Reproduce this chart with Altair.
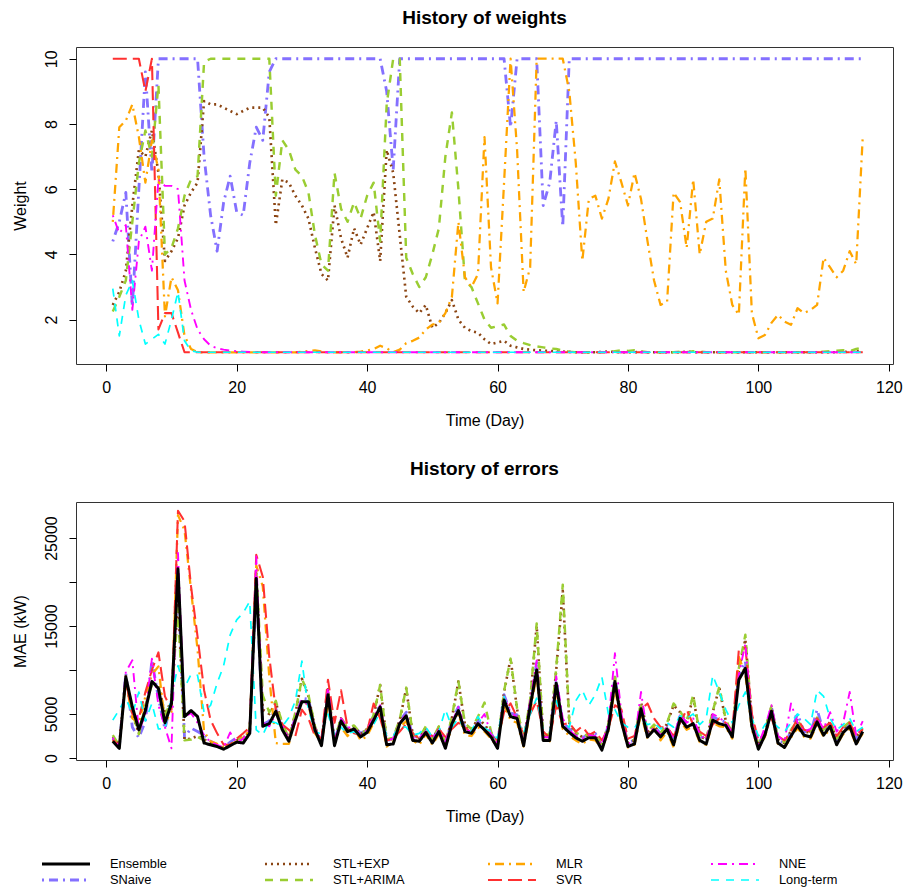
import altair as alt
import pandas as pd

days = list(range(1, 117))

# ---------------- weights (top panel) ----------------
w_snaive = [4.4, 5.0, 5.9, 2.4, 6.0, 9.6, 6.5, 10, 10, 10,
            10, 10, 10, 10, 7.0, 5.2, 4.1, 5.6, 6.4, 5.3,
            5.2, 6.8, 7.9, 7.5, 9.6, 10, 10, 10, 10, 10,
            10, 10, 10, 10, 10, 10, 10, 10, 10, 10,
            10, 10, 9.0, 6.6, 10, 10, 10, 10, 10, 10,
            10, 10, 10, 10, 10, 10, 10, 10, 10, 10,
            10, 7.9, 10, 10, 10, 10, 5.5, 6.2, 8.1, 4.85,
            10, 10, 10, 10, 10, 10, 10, 10, 10, 10,
            10, 10, 10, 10, 10, 10, 10, 10, 10, 10,
            10, 10, 10, 10, 10, 10, 10, 10, 10, 10,
            10, 10, 10, 10, 10, 10, 10, 10, 10, 10,
            10, 10, 10, 10, 10, 10]
w_stlexp = [2.45, 2.85, 3.5, 5.5, 7.2, 7.0, 7.8, 6.5, 3.8, 4.1,
            4.5, 5.5, 5.9, 6.2, 8.7, 8.6, 8.6, 8.5, 8.4, 8.3,
            8.4, 8.5, 8.5, 8.5, 8.2, 4.9, 6.3, 6.2, 5.8, 5.5,
            5.1, 4.2, 3.4, 3.2, 5.5, 4.5, 3.9, 4.8, 4.3, 4.8,
            5.3, 3.8, 7.2, 6.5, 4.6, 2.7, 2.4, 2.2, 2.45, 1.75,
            1.9, 2.2, 2.6, 2.0, 1.75, 1.65, 1.6, 1.4, 1.25, 1.3,
            1.35, 1.2, 1.15, 1.1, 1.08, 1.06, 1.05, 1.04, 1.03, 1.02,
            1.01, 1.0, 1.0, 1.0, 1.0, 1.01, 1.02, 1.01, 1.0, 1.0,
            1.0, 1.01, 1.0, 1.0, 1.0, 1.0, 1.0, 1.0, 1.02, 1.0,
            1.0, 1.0, 1.0, 1.0, 1.0, 1.0, 1.0, 1.0, 1.0, 1.0,
            1.0, 1.0, 1.0, 1.0, 1.0, 1.0, 1.0, 1.0, 1.0, 1.0,
            1.0, 1.0, 1.02, 1.0, 1.04, 1.02]
w_stlarima = [2.25, 2.7, 3.2, 5.0, 6.8, 7.8, 7.0, 9.2, 4.0, 4.2,
              4.8, 5.8, 6.3, 6.4, 9.9, 10, 10, 10, 10, 10,
              10, 10, 10, 10, 10, 5.8, 7.5, 7.2, 6.6, 6.4,
              5.9, 4.6, 3.7, 3.5, 6.5, 5.4, 5.0, 5.6, 5.1, 5.8,
              6.2, 4.4, 8.6, 10, 10, 3.9, 3.4, 3.0, 3.3, 4.0,
              4.8, 7.0, 8.35, 6.0, 3.2, 3.0, 2.5, 2.0, 1.75, 1.8,
              1.85, 1.5, 1.35, 1.28, 1.22, 1.18, 1.15, 1.12, 1.1, 1.05,
              1.02, 1.0, 1.0, 1.0, 1.0, 1.0, 1.0, 1.03, 1.06, 1.04,
              1.06, 1.03, 1.0, 1.0, 1.0, 1.0, 1.0, 1.02, 1.0, 1.03,
              1.02, 1.0, 1.0, 1.0, 1.0, 1.0, 1.0, 1.0, 1.0, 1.0,
              1.0, 1.0, 1.0, 1.0, 1.0, 1.0, 1.0, 1.0, 1.0, 1.02,
              1.03, 1.05, 1.06, 1.03, 1.1, 1.15]
w_mlr = [5.0, 7.9, 8.1, 8.6, 7.6, 6.2, 7.5, 6.6, 2.1, 3.3,
         2.9, 1.5, 1.1, 1.0, 1.0, 1.0, 1.0, 1.0, 1.0, 1.0,
         1.0, 1.0, 1.0, 1.0, 1.0, 1.0, 1.0, 1.0, 1.0, 1.02,
         1.04, 1.06, 1.03, 1.0, 1.0, 1.0, 1.0, 1.0, 1.02, 1.05,
         1.1, 1.2, 1.12, 1.0, 1.08, 1.28, 1.35, 1.45, 1.7, 1.85,
         1.9, 2.2, 2.7, 5.0, 3.3, 3.0, 3.4, 7.6, 3.6, 2.5,
         6.2, 10, 7.2, 2.85, 3.6, 10, 10, 10, 10, 10,
         9.0, 6.8, 3.8, 5.7, 5.8, 5.1, 5.7, 6.85, 6.2, 5.5,
         6.5, 5.7, 4.4, 3.2, 2.45, 2.55, 5.9, 5.6, 4.2, 6.3,
         4.0, 5.0, 5.1, 6.3, 3.5, 2.45, 2.15, 6.65, 2.2, 1.43,
         1.53, 1.9, 2.15, 1.94, 1.84, 2.35, 2.2, 2.3, 2.45, 3.9,
         3.6, 3.3, 3.5, 4.1, 3.7, 7.6]
w_svr = [10, 10, 10, 10, 10, 9.0, 10, 1.7, 2.2, 2.2,
         1.6, 1.0, 1.0, 1.0, 1.0, 1.0, 1.0, 1.0, 1.0, 1.0,
         1.0, 1.0, 1.0, 1.0, 1.0, 1.0, 1.0, 1.0, 1.0, 1.0,
         1.0, 1.0, 1.0, 1.0, 1.0, 1.0, 1.0, 1.0, 1.0, 1.0,
         1.0, 1.0, 1.0, 1.0, 1.0, 1.0, 1.0, 1.0, 1.0, 1.0,
         1.0, 1.0, 1.0, 1.0, 1.0, 1.0, 1.0, 1.0, 1.0, 1.0,
         1.0, 1.0, 1.0, 1.0, 1.0, 1.0, 1.0, 1.0, 1.0, 1.0,
         1.0, 1.0, 1.0, 1.0, 1.0, 1.0, 1.0, 1.0, 1.0, 1.0,
         1.0, 1.0, 1.0, 1.0, 1.0, 1.0, 1.0, 1.0, 1.0, 1.0,
         1.0, 1.0, 1.0, 1.0, 1.0, 1.0, 1.0, 1.0, 1.0, 1.0,
         1.0, 1.0, 1.0, 1.0, 1.0, 1.0, 1.0, 1.0, 1.0, 1.0,
         1.0, 1.0, 1.0, 1.0, 1.0, 1.0]
w_nne = [5.2, 4.65, 4.9, 2.3, 4.4, 4.85, 3.5, 6.3, 6.1, 6.1,
         6.0, 3.2, 2.3, 1.7, 1.4, 1.2, 1.12, 1.08, 1.05, 1.03,
         1.02, 1.01, 1.0, 1.0, 1.0, 1.0, 1.0, 1.0, 1.0, 1.0,
         1.0, 1.0, 1.0, 1.0, 1.0, 1.0, 1.0, 1.0, 1.0, 1.0,
         1.0, 1.0, 1.0, 1.0, 1.0, 1.0, 1.0, 1.0, 1.0, 1.0,
         1.0, 1.0, 1.0, 1.0, 1.0, 1.0, 1.0, 1.0, 1.0, 1.0,
         1.0, 1.0, 1.0, 1.0, 1.0, 1.0, 1.0, 1.0, 1.0, 1.0,
         1.0, 1.0, 1.0, 1.0, 1.0, 1.0, 1.0, 1.0, 1.0, 1.0,
         1.0, 1.0, 1.0, 1.0, 1.0, 1.0, 1.0, 1.0, 1.0, 1.0,
         1.0, 1.0, 1.0, 1.0, 1.0, 1.0, 1.0, 1.0, 1.0, 1.0,
         1.0, 1.0, 1.0, 1.0, 1.0, 1.0, 1.0, 1.0, 1.0, 1.0,
         1.0, 1.0, 1.0, 1.0, 1.0, 1.0]
w_longterm = [2.95, 1.5, 2.75, 3.2, 2.0, 1.25, 1.4, 1.55, 1.25, 2.0,
              2.85, 1.35, 1.05, 1.0, 1.0, 1.0, 1.0, 1.0, 1.0, 1.0,
              1.0, 1.0, 1.0, 1.0, 1.0, 1.0, 1.0, 1.0, 1.0, 1.0,
              1.0, 1.0, 1.0, 1.0, 1.0, 1.0, 1.0, 1.0, 1.0, 1.0,
              1.0, 1.0, 1.0, 1.0, 1.0, 1.0, 1.0, 1.0, 1.0, 1.0,
              1.0, 1.0, 1.0, 1.0, 1.0, 1.0, 1.0, 1.0, 1.0, 1.0,
              1.0, 1.0, 1.0, 1.0, 1.0, 1.0, 1.0, 1.0, 1.0, 1.0,
              1.0, 1.0, 1.0, 1.0, 1.0, 1.0, 1.0, 1.0, 1.0, 1.0,
              1.0, 1.0, 1.0, 1.0, 1.0, 1.0, 1.0, 1.0, 1.0, 1.0,
              1.0, 1.0, 1.0, 1.0, 1.0, 1.0, 1.0, 1.0, 1.0, 1.0,
              1.0, 1.0, 1.0, 1.0, 1.0, 1.0, 1.0, 1.0, 1.0, 1.0,
              1.0, 1.0, 1.0, 1.0, 1.0, 1.0]

# ---------------- errors (bottom panel) ----------------
e_ensemble = [1900, 1100, 9200, 5800, 3200, 5400, 8700, 7900, 4000, 6200,
              21500, 4700, 5400, 4700, 1700, 1500, 1300, 1000, 1400, 1800,
              1700, 2800, 20400, 3600, 3900, 5300, 3200, 1900, 4300, 6400,
              6400, 3200, 1400, 7200, 1400, 4200, 3000, 3300, 2400, 2900,
              4300, 5800, 1500, 1600, 3900, 4800, 2000, 1900, 2900, 1700,
              3000, 1100, 3900, 5400, 3000, 2800, 3900, 3200, 2400, 1100,
              6600, 4700, 4500, 1400, 5800, 10000, 2000, 2000, 8500, 3600,
              2900, 2300, 1900, 2300, 2300, 900, 3300, 8700, 4100, 1300,
              1600, 5600, 2400, 3200, 2400, 3300, 1500, 4500, 3500, 3900,
              2000, 1600, 4300, 3900, 3700, 2400, 8900, 10200, 3600, 1000,
              2600, 5300, 1700, 1200, 2500, 3700, 2600, 2400, 4100, 2600,
              3600, 1500, 2900, 3600, 1600, 3000]
e_snaive = [2200, 1300, 9600, 3500, 2300, 4200, 11100, 6800, 3300, 6500,
            20000, 2300, 3400, 3000, 2600, 1900, 1500, 1200, 1800, 2300,
            2400, 2900, 19800, 3800, 4200, 5600, 3300, 2300, 4600, 6800,
            6700, 3500, 1700, 7400, 1900, 4400, 3300, 3600, 2800, 3200,
            4700, 6000, 2000, 2100, 4200, 5200, 2500, 2300, 3300, 2100,
            3400, 1600, 4300, 5800, 3400, 3100, 4200, 3600, 2800, 1600,
            7200, 5100, 4900, 1900, 6300, 10800, 2600, 2500, 8800, 4000,
            3300, 2700, 2300, 2700, 2800, 1400, 3700, 9200, 4500, 1800,
            2000, 6100, 2800, 3600, 2800, 3700, 1900, 5000, 3900, 4300,
            2500, 2000, 4700, 4300, 4100, 2800, 9500, 11000, 4000, 1500,
            3000, 5800, 2200, 1600, 3000, 5000, 3000, 2800, 5500, 3000,
            4000, 2000, 3300, 4000, 2100, 3400]
e_stlexp = [2400, 1500, 9300, 5000, 2800, 5800, 8500, 8300, 5000, 6500,
            18000, 2100, 2200, 2500, 2100, 1700, 1500, 1100, 1500, 2000,
            2200, 3000, 21000, 5500, 5000, 6300, 3800, 2200, 5000, 9000,
            7000, 3500, 1700, 7800, 1900, 4500, 3300, 3600, 2700, 3300,
            4800, 8300, 2000, 2200, 4300, 7900, 2600, 2200, 3500, 2000,
            3500, 1500, 4500, 8700, 3800, 3200, 4500, 3800, 2800, 1400,
            7500, 11300, 5500, 2000, 6500, 15000, 2500, 2600, 10000, 19000,
            4000, 2800, 2400, 2600, 2600, 1300, 3800, 9000, 4600, 1700,
            2000, 6300, 2900, 3700, 2700, 3900, 6000, 5200, 4000, 7000,
            2600, 2000, 5200, 8000, 4200, 2800, 10000, 13500, 4300, 1400,
            3000, 5800, 2100, 1700, 3100, 4200, 3000, 2900, 4500, 3100,
            4100, 2100, 3400, 4000, 2400, 3300]
e_stlarima = [2600, 1400, 9000, 5200, 2700, 6000, 8300, 8200, 4800, 6600,
              17000, 2000, 2100, 2400, 2000, 1700, 1400, 1100, 1500, 2100,
              2300, 3200, 21400, 7100, 5200, 6500, 3900, 2300, 5200, 9000,
              7200, 3600, 1600, 7600, 2000, 4600, 3400, 3700, 2800, 3200,
              4900, 8300, 2100, 2300, 4400, 8000, 2700, 2300, 3600, 2100,
              3600, 1600, 4700, 8700, 3900, 3300, 4700, 6300, 3000, 1500,
              7600, 11300, 5600, 2100, 6600, 15300, 2600, 2700, 10200, 19700,
              4200, 2900, 2500, 2700, 2700, 1400, 3900, 9200, 4700, 1800,
              2100, 6400, 3000, 3800, 2800, 4000, 6200, 5300, 4100, 7200,
              2700, 2100, 5300, 8100, 4300, 2900, 10200, 14000, 4400, 1500,
              3100, 5900, 2200, 1800, 3200, 4300, 3100, 3000, 4600, 3200,
              4200, 2200, 3500, 4100, 2500, 3400]
e_mlr = [2000, 1200, 8800, 4500, 4000, 7000, 9500, 10400, 4000, 5200,
         27600, 25900, 19100, 12300, 3000, 1900, 1600, 1200, 1500, 1900,
         2500, 3000, 21900, 19500, 9200, 1700, 1600, 1600, 4300, 6500,
         6000, 2800, 1700, 6000, 2200, 3500, 2500, 3400, 2000, 2500,
         4000, 5000, 1300, 1800, 3500, 4200, 2000, 1500, 2700, 1500,
         2700, 1200, 3500, 5000, 2600, 2500, 3500, 3000, 2200, 1200,
         6000, 4300, 4000, 1300, 5200, 9500, 2200, 1900, 7500, 3300,
         2500, 2000, 1600, 2100, 2000, 1000, 3000, 8000, 3800, 1200,
         1500, 5000, 2200, 3500, 2000, 3000, 1200, 4200, 3200, 3600,
         1800, 1500, 4000, 3600, 3500, 2200, 11500, 9500, 3200, 1100,
         2400, 5000, 1600, 1200, 2300, 3400, 2400, 2200, 3800, 2400,
         3300, 1500, 2700, 3300, 1500, 2800]
e_svr = [2100, 1400, 8800, 5000, 4500, 7500, 10000, 12000, 7000, 5500,
         28100, 26900, 19500, 13800, 7700, 4300, 2800, 1500, 1500, 2200,
         2800, 3500, 23100, 20600, 11500, 5400, 3800, 3200, 2500, 5500,
         4500, 2500, 2200, 8900, 4000, 7700, 3500, 2800, 2600, 3000,
         6200, 4500, 2000, 2200, 3000, 3900, 2800, 2200, 3000, 2500,
         3300, 2400, 3300, 4000, 3500, 2800, 3600, 3400, 2700, 2000,
         5200, 6200, 4600, 2500, 5000, 6500, 3000, 2300, 6000, 3800,
         4000, 3000, 3600, 2600, 3000, 2000, 3400, 6000, 5500, 2200,
         2500, 5500, 6200, 4500, 3500, 3500, 2500, 4000, 5500, 3800,
         3000, 2500, 3800, 4500, 4000, 3000, 12300, 12600, 5000, 2000,
         2800, 4500, 2500, 2000, 3000, 4500, 3200, 3000, 4500, 3500,
         4000, 2500, 3500, 4000, 2500, 3300]
e_nne = [2300, 1300, 9800, 11100, 3000, 5000, 11300, 6000, 3500, 1100,
         23300, 4700, 5100, 4000, 2600, 1800, 1500, 1200, 2900, 1700,
         2200, 3200, 22900, 4000, 3600, 5000, 3800, 2000, 4800, 6600,
         6000, 3500, 1600, 8000, 2000, 4500, 3500, 3400, 2600, 3200,
         4600, 6000, 2000, 2200, 4000, 5000, 2300, 2300, 3000, 2200,
         3200, 1900, 4000, 5800, 3200, 3000, 4000, 5000, 2700, 1700,
         7000, 5200, 4600, 1900, 6400, 11100, 2400, 2300, 9300, 4500,
         3200, 2500, 2200, 2600, 2500, 1500, 4000, 11900, 5000, 1600,
         1900, 7500, 2700, 3500, 2600, 3600, 2100, 5000, 4000, 4500,
         2800, 2000, 5000, 4600, 4000, 2900, 9500, 13000, 4200, 1500,
         3500, 6000, 2500, 1900, 6200, 4000, 3000, 3300, 4600, 3300,
         5200, 3000, 4000, 7500, 2500, 4200]
e_longterm = [4300, 5500, 6800, 5000, 7500, 4200, 6200, 3300, 3300, 7000,
              10500, 8000, 9500, 9400, 5200, 6000, 8500, 10500, 14000, 15700,
              16500, 17800, 3200, 2600, 4200, 4000, 3600, 4600, 6500, 11000,
              5500, 3000, 2700, 5000, 2600, 3500, 2800, 3000, 2500, 3000,
              3800, 5200, 2500, 2500, 3600, 3500, 2600, 2800, 3500, 2400,
              3000, 5500, 3500, 4500, 3200, 3000, 4700, 3400, 3000, 2200,
              7000, 4800, 4300, 2800, 5000, 6800, 3200, 3000, 6500, 4000,
              3500, 6500, 7700, 6000, 7200, 9200, 5000, 5500, 4000, 3500,
              3400, 4500, 3800, 4000, 3300, 4000, 3500, 4800, 4500, 5000,
              3800, 4500, 9400, 7500, 5500, 4000, 6000, 7500, 4500, 2500,
              3800, 4200, 3500, 3000, 4000, 5000, 4500, 3800, 7700, 7000,
              4500, 3200, 3800, 4500, 3000, 3500]

# ---------------- styling ----------------
FONT = "Liberation Sans"
legend_names = ["Ensemble", "SNaive", "STL+EXP", "STL+ARIMA",
                "MLR", "SVR", "NNE", "Long-term"]
color_map = {"Ensemble": "#000000", "SNaive": "#8470FF", "STL+EXP": "#8B4513",
             "STL+ARIMA": "#9ACD32", "MLR": "#FFA500", "SVR": "#FF3030",
             "NNE": "#FF00FF", "Long-term": "#00FFFF"}
dash_map = {"Ensemble": [1, 0], "SNaive": [2, 5, 9, 5], "STL+EXP": [2, 4],
            "STL+ARIMA": [8, 7], "MLR": [2, 5, 9, 5], "SVR": [14, 6],
            "NNE": [2, 5, 9, 5], "Long-term": [8, 7]}
width_map = {"Ensemble": 3.0, "SNaive": 1.7, "STL+EXP": 1.8, "STL+ARIMA": 1.7,
             "MLR": 1.7, "SVR": 1.7, "NNE": 1.7, "Long-term": 1.7}

weights = {"SNaive": w_snaive, "STL+EXP": w_stlexp, "STL+ARIMA": w_stlarima,
           "MLR": w_mlr, "SVR": w_svr, "NNE": w_nne, "Long-term": w_longterm}
errors = {"SNaive": e_snaive, "STL+EXP": e_stlexp, "STL+ARIMA": e_stlarima,
          "MLR": e_mlr, "SVR": e_svr, "NNE": e_nne, "Long-term": e_longterm,
          "Ensemble": e_ensemble}


def long_df(d, valname):
    rows = []
    for name, vals in d.items():
        for day, v in zip(days, vals):
            rows.append({"day": day, valname: v, "series": name})
    return pd.DataFrame(rows)


df_w = long_df(weights, "weight")
df_e = long_df(errors, "mae")

PLOT_W = 817
x_scale = alt.Scale(domain=[-4.64, 120.64], nice=False, zero=False)


def x_axis():
    return alt.Axis(values=[0, 20, 40, 60, 80, 100, 120], title="Time (Day)",
                    grid=False, domain=False, tickSize=7, tickColor="black",
                    labelFont=FONT, labelFontSize=16, labelColor="black",
                    labelBaseline="alphabetic", labelPadding=21.6,
                    labelFlush=False, labelOverlap=False,
                    titleFont=FONT, titleFontSize=16, titleFontWeight="normal",
                    titleColor="black", titleBaseline="alphabetic", titleY=61.5)


def y_axis(vals, title, label_expr=None):
    kw = dict(values=vals, title=title, grid=False, domain=False, tickSize=7,
              tickColor="black", labelFont=FONT, labelFontSize=16,
              labelColor="black", labelAngle=270, labelAlign="center",
              labelBaseline="alphabetic", labelPadding=12.5,
              labelOverlap=False, labelFlush=False,
              titleFont=FONT, titleFontSize=16, titleFontWeight="normal",
              titleColor="black", titleBaseline="alphabetic", titleX=-51,
              format="d")
    if label_expr:
        kw["labelExpr"] = label_expr
    return alt.Axis(**kw)


def style_channels():
    return dict(
        color=alt.Color("series:N", legend=None,
                        scale=alt.Scale(domain=legend_names,
                                        range=[color_map[s] for s in legend_names])),
        strokeDash=alt.StrokeDash("series:N", legend=None,
                                  scale=alt.Scale(domain=legend_names,
                                                  range=[dash_map[s] for s in legend_names])),
        strokeWidth=alt.StrokeWidth("series:N", legend=None,
                                    scale=alt.Scale(domain=legend_names,
                                                    range=[width_map[s] for s in legend_names])),
    )


# ---------------- top panel ----------------
top_layers = []
for s in ["SNaive", "STL+EXP", "STL+ARIMA", "MLR", "SVR", "NNE", "Long-term"]:
    top_layers.append(
        alt.Chart(df_w).transform_filter(alt.datum.series == s)
        .mark_line(strokeCap="butt", strokeJoin="round")
        .encode(x=alt.X("day:Q", scale=x_scale, axis=x_axis()),
                y=alt.Y("weight:Q",
                        scale=alt.Scale(domain=[0.64, 10.36], nice=False, zero=False),
                        axis=y_axis([2, 4, 6, 8, 10], "Weight")),
                **style_channels())
    )

top = alt.layer(*top_layers).properties(
    width=PLOT_W, height=317,
    title=alt.TitleParams("History of weights", font=FONT, fontSize=19,
                          fontWeight="bold", color="black", anchor="middle",
                          baseline="alphabetic", offset=4.5))

# ---------------- bottom panel ----------------
bottom_layers = []
for s in ["SNaive", "STL+EXP", "STL+ARIMA", "MLR", "SVR", "NNE", "Long-term", "Ensemble"]:
    bottom_layers.append(
        alt.Chart(df_e).transform_filter(alt.datum.series == s)
        .mark_line(strokeCap="butt", strokeJoin="round")
        .encode(x=alt.X("day:Q", scale=x_scale, axis=x_axis()),
                y=alt.Y("mae:Q",
                        scale=alt.Scale(domain=[-228, 29096], nice=False, zero=False),
                        axis=y_axis([0, 5000, 10000, 15000, 20000, 25000], "MAE (kW)",
                                    "(datum.value == 10000 || datum.value == 20000) ? '' : format(datum.value, 'd')")),
                **style_channels())
    )

bottom = alt.layer(*bottom_layers).properties(
    width=PLOT_W, height=258,
    title=alt.TitleParams("History of errors", font=FONT, fontSize=19,
                          fontWeight="bold", color="black", anchor="middle",
                          baseline="alphabetic", offset=8))

# ---------------- legend panel (4 columns x 2 rows, column-major) ----------------
df_leg = pd.DataFrame({"series": legend_names,
                       "col": [i // 2 for i in range(len(legend_names))],
                       "row": [i % 2 for i in range(len(legend_names))]})
lx = alt.Scale(domain=[0.1525, 0.1525 + PLOT_W / 223.0], nice=False, zero=False)
ly = alt.Scale(domain=[-0.5, 1.375], nice=False, zero=False, reverse=True)

leg_rules = (alt.Chart(df_leg)
             .transform_calculate(col_end="datum.col + 0.2152")
             .mark_rule(strokeCap="butt")
             .encode(x=alt.X("col:Q", scale=lx, axis=None),
                     x2=alt.X2("col_end:Q"),
                     y=alt.Y("row:Q", scale=ly, axis=None),
                     **style_channels()))
leg_text = (alt.Chart(df_leg)
            .mark_text(align="left", baseline="middle", dx=68, font=FONT,
                       fontSize=12.8, color="black")
            .encode(x=alt.X("col:Q", scale=lx, axis=None),
                    y=alt.Y("row:Q", scale=ly, axis=None),
                    text="series:N"))
legend_panel = alt.layer(leg_rules, leg_text).properties(
    width=PLOT_W, height=30, view=alt.ViewBackground(stroke="transparent"))

chart = alt.vconcat(top, bottom, legend_panel, spacing=30).properties(
    padding={"left": 3, "top": 0, "right": 0, "bottom": 0},
    background="white"
).configure_view(stroke="#333333", strokeWidth=1)

chart.save("out.html", embed_options={"renderer": "svg", "actions": False})
